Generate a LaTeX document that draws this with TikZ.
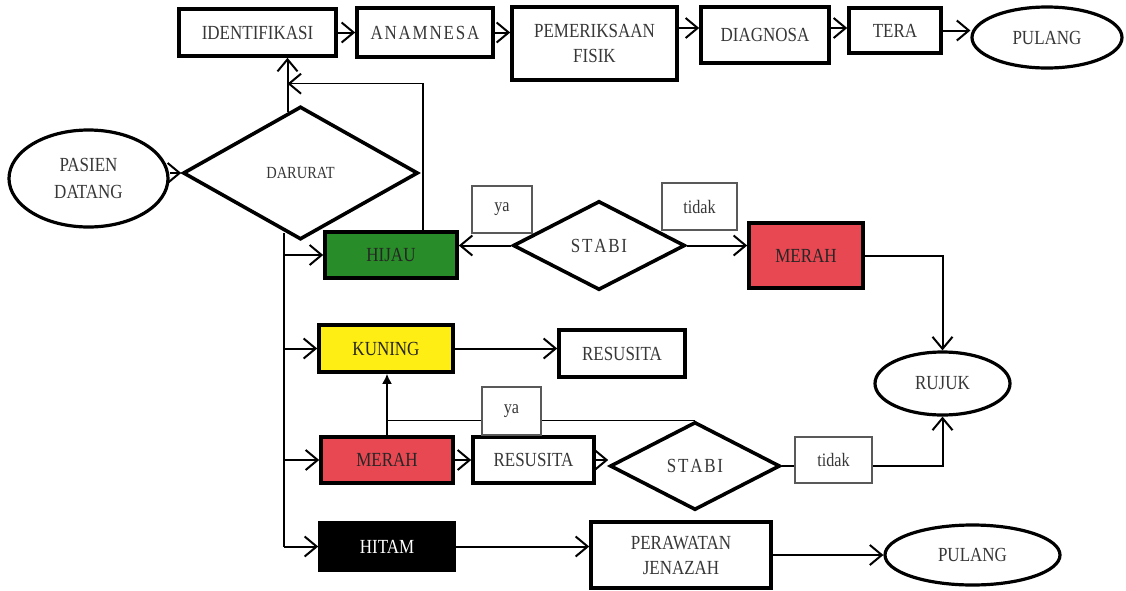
\documentclass[tikz,border=0pt]{standalone}
\usepackage{fontspec}
\setmainfont{Liberation Serif}[FakeStretch=0.85]
\usetikzlibrary{shapes.geometric,arrows.meta,calc}
\definecolor{txt}{RGB}{55,55,55}
\definecolor{hijaufill}{RGB}{40,140,40}
\definecolor{merahfill}{RGB}{232,72,82}
\definecolor{kuningfill}{RGB}{255,238,20}
\newcommand{\ls}{\kern0.9pt}
\tikzset{
  box/.style={draw, rectangle, line width=1.8pt, inner sep=0pt, text=txt, align=center,
    font=\fontsize{10}{12.5}\selectfont},
  lbl/.style={draw=black!65, rectangle, line width=0.6pt, fill=white, inner sep=0pt, text=txt,
    font=\fontsize{9.5}{11}\selectfont},
  dia/.style={draw, diamond, line width=1.8pt, inner sep=0pt, text=txt,
    font=\fontsize{10}{12}\selectfont},
  oval/.style={draw, ellipse, line width=1.6pt, inner sep=0pt, text=txt, align=center,
    font=\fontsize{10}{13.5}\selectfont},
  barb/.tip={Straight Barb[length=6pt,width=10pt,line width=1pt]},
  arr/.style={line width=1pt, -barb},
  fillarr/.style={line width=0.9pt, -{Latex[length=5pt,width=5pt]}},
  ln/.style={line width=1pt},
  thinln/.style={line width=0.7pt},
  thinarr/.style={line width=0.7pt, -barb},
}
\begin{document}
\begin{tikzpicture}[x=0.5pt, y=-0.5pt]
\useasboundingbox (0,0) rectangle (1126,590);
% top row
\node[box, minimum width=78.5pt, minimum height=23.5pt] (ident) at (257.5,32.5) {IDENTIFIKASI};
\node[box, minimum width=68pt, minimum height=24.5pt] (anam) at (425,32.5) {A\ls N\ls A\ls M\ls N\ls E\ls S\ls A};
\node[box, minimum width=82.5pt, minimum height=36.5pt] (pem) at (594.5,43.5) {PEMERIKSAAN\\FISIK};
\node[box, minimum width=64pt, minimum height=28pt] (diag) at (765,35) {DIAGNOSA};
\node[box, minimum width=46pt, minimum height=22.5pt] (tera) at (895,30.5) {TERA};
\node[oval, minimum width=75pt, minimum height=30.5pt] (pul1) at (1047,37.5) {PULANG};
% left
\node[oval, minimum width=79.5pt, minimum height=48.5pt] (pasien) at (88.5,178.5) {PASIEN\\DATANG};
\node[dia, minimum width=117.5pt, minimum height=66.5pt, font=\fontsize{8.5}{10}\selectfont] (dar) at (300.5,173) {DARURAT};
% hijau row
\node[box, fill=hijaufill, text=black!85, minimum width=66pt, minimum height=23pt] (hijau) at (391,255) {HIJAU};
\node[dia, minimum width=86pt, minimum height=44.5pt] (stabi1) at (599,245.5) {S\ls T\ls A\ls B\ls I};
\node[lbl, minimum width=30pt, minimum height=23.5pt] (ya1) at (502,209.5) {ya};
\node[lbl, minimum width=37.5pt, minimum height=23.5pt] (tidak1) at (699.5,206.5) {tidak};
\node[box, fill=merahfill, text=black!85, minimum width=57pt, minimum height=32.5pt] (merah1) at (806,255.5) {MERAH};
\node[oval, minimum width=67.5pt, minimum height=31.5pt] (rujuk) at (942.5,383.5) {RUJUK};
% kuning row
\node[box, fill=kuningfill, text=black!85, minimum width=67pt, minimum height=23.5pt] (kuning) at (386,348.5) {KUNING};
\node[box, minimum width=63pt, minimum height=23.5pt] (res1) at (622,353.5) {RESUSITA};
% merah row
\node[box, fill=merahfill, text=black!85, minimum width=66pt, minimum height=23pt] (merah2) at (387,460) {MERAH};
\node[box, minimum width=60.5pt, minimum height=23pt] (res2) at (533.5,460) {RESUSITA};
\node[dia, minimum width=85pt, minimum height=44pt] (stabi2) at (695,466) {S\ls T\ls A\ls B\ls I};
\node[lbl, minimum width=38.5pt, minimum height=23pt] (tidak2) at (833.5,460) {tidak};
% hitam row
\node[box, fill=black, text=white, minimum width=67pt, minimum height=23.5pt] (hitam) at (387,546.5) {HITAM};
\node[box, minimum width=90pt, minimum height=33pt] (peraw) at (681,555) {PERAWATAN\\JENAZAH};
\node[oval, minimum width=87.5pt, minimum height=30pt] (pul2) at (972.5,555) {PULANG};

% top row connectors
\draw[arr] (ident.east) -- (ident.east -| anam.west);
\draw[arr] (anam.east) -- (anam.east -| pem.west);
\draw[arr] ($(diag.west -| pem.east)+(0,-7)$) -- ($(diag.west)+(0,-7)$);
\draw[arr] ($(diag.east)+(0,-7)$) -- ($(diag.east -| tera.west)+(0,-7)$);
\draw[arr] (tera.east) -- (tera.east -| pul1.west);
% pasien -> darurat
\draw[arr] (pasien.east |- dar.west) -- (dar.west);
% darurat -> identifikasi
\coordinate (up) at ($(dar.north)+(-13,7)$);
\draw[arr] (up) -- (up |- ident.south);
% hijau back to identifikasi line
\coordinate (back) at ($(up)+(0,-28)$);
\draw[thinarr] ($(hijau.north)+(32,0)$) |- (back);
% bus
\coordinate (bustop) at ($(dar.south)+(-17,-8)$);
\draw[ln] (bustop) -- (bustop |- hitam.west);
\draw[arr] (bustop |- hijau.west) -- (hijau.west);
\draw[arr] (bustop |- kuning.west) -- (kuning.west);
\draw[arr] (bustop |- merah2.west) -- (merah2.west);
\draw[arr] (bustop |- hitam.west) -- (hitam.west);
% stabi 1
\draw[arr] (stabi1.west) -- (stabi1.west -| hijau.east);
\draw[arr] (stabi1.east) -- (stabi1.east -| merah1.west);
\draw[arr] (merah1.east) -| (rujuk.north);
% kuning
\draw[arr] (kuning.east) -- (kuning.east -| res1.west);
% merah 2 row
\draw[fillarr] (merah2.north) -- (merah2.north |- kuning.south);
\draw[thinln] (stabi2.north) -- (stabi2.north -| merah2.north);
\node[lbl, minimum width=29.5pt, minimum height=24pt] (ya2) at (511.5,411) {ya};
\draw[arr] (merah2.east) -- (res2.west);
\draw[arr] (res2.east) -- (res2.east -| stabi2.west);
\draw[ln] (stabi2.east) -- (stabi2.east -| tidak2.west);
\draw[arr] (tidak2.east |- stabi2.east) -| (rujuk.south);
% hitam row
\draw[arr] (hitam.east) -- (hitam.east -| peraw.west);
\draw[arr] (peraw.east) -- (peraw.east -| pul2.west);
\end{tikzpicture}
\end{document}
